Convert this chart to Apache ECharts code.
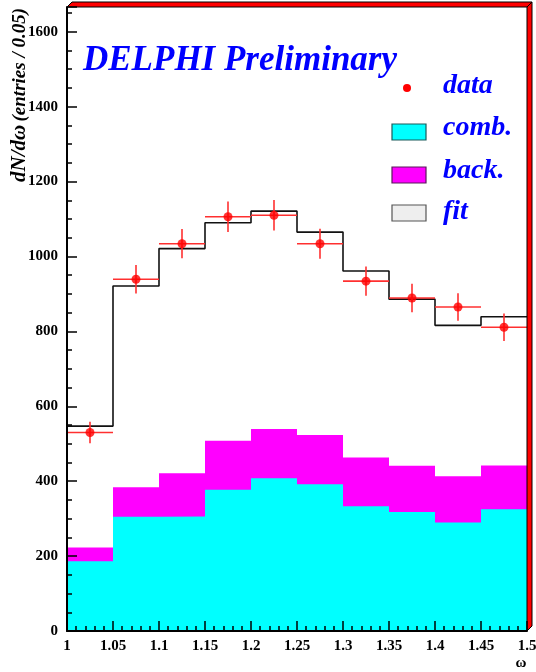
<!DOCTYPE html>
<html>
<head>
<meta charset="utf-8">
<script src="https://cdn.jsdelivr.net/npm/echarts@6/dist/echarts.min.js"></script>
<style>
  html, body { margin: 0; padding: 0; background: #fff; }
  #main { width: 536px; height: 672px; }
</style>
</head>
<body>
<div id="main"></div>
<script>
// bin edges (width 0.05), last edge closes the histogram
var binEdges = [1, 1.05, 1.1, 1.15, 1.2, 1.25, 1.3, 1.35, 1.4, 1.45, 1.5];
var binCenters = [1.025, 1.075, 1.125, 1.175, 1.225, 1.275, 1.325, 1.375, 1.425, 1.475];

var fitVals  = [547, 921, 1021, 1090, 1121, 1065, 961, 886, 816, 839];
var dataVals = [530, 939, 1034, 1106, 1110, 1034, 934, 889, 865, 811];
var dataErr  = [29, 38, 39, 41, 41, 40, 39, 38, 37, 37];
var combVals = [186, 305, 306, 377, 408, 392, 333, 318, 290, 325];
var backVals = [37, 79, 115, 131, 131, 131, 130, 123, 123, 117];

var yTicks = [0, 200, 400, 600, 800, 1000, 1200, 1400, 1600];

function stepData(vals) {
    var out = [];
    for (var i = 0; i < vals.length; i++) out.push([binEdges[i], vals[i]]);
    out.push([binEdges[binEdges.length - 1], vals[vals.length - 1]]);
    return out;
}

// back. is drawn stacked on comb. : total height, painted under the cyan
var combPlusBack = combVals.map(function (v, i) { return v + backVals[i]; });

var serif = '"Liberation Serif", "DejaVu Serif", serif';
var myChart = echarts.init(document.getElementById('main'));

var option = {
    animation: false,
    grid: { left: 67, right: 9, top: 7, bottom: 41, outerBoundsMode: 'none', containLabel: false },
    xAxis: {
        type: 'value', z: 10,
        min: 1, max: 1.5, interval: 0.05,
        axisLine: { lineStyle: { color: '#000', width: 2 } },
        axisTick: { inside: true, length: 10, lineStyle: { color: '#000', width: 1.5 } },
        minorTick: { show: true, splitNumber: 5, length: 5, lineStyle: { color: '#000', width: 1.5 } },
        splitLine: { show: false },
        axisLabel: {
            color: '#000', fontFamily: serif, fontWeight: 'bold', fontSize: 15, margin: 8,
            formatter: function (v) { return String(+v.toFixed(2)); }
        }
    },
    yAxis: {
        type: 'value', z: 10,
        min: 0, max: 1666, interval: 200,
        axisLine: { show: true, lineStyle: { color: '#000', width: 2 } },
        axisTick: { inside: true, length: 10, lineStyle: { color: '#000', width: 1.5 } },
        minorTick: { show: true, splitNumber: 4, length: 5, lineStyle: { color: '#000', width: 1.5 } },
        splitLine: { show: false },
        axisLabel: {
            color: '#000', fontFamily: serif, fontWeight: 'bold', fontSize: 15, margin: 9,
            formatter: function (v) { return yTicks.indexOf(v) >= 0 ? String(v) : ''; }
        }
    },
    series: [
        {
            name: 'back.', type: 'line', step: 'end',
            data: stepData(combPlusBack), showSymbol: false, symbol: 'none',
            lineStyle: { width: 0 },
            areaStyle: { color: '#ff00ff', opacity: 1 },
            z: 1
        },
        {
            name: 'comb.', type: 'line', step: 'end',
            data: stepData(combVals), showSymbol: false, symbol: 'none',
            lineStyle: { width: 0 },
            areaStyle: { color: '#00ffff', opacity: 1 },
            z: 2
        },
        {
            name: 'fit', type: 'line', step: 'end',
            data: stepData(fitVals), showSymbol: false, symbol: 'none',
            lineStyle: { color: '#111', width: 1.6 },
            z: 3
        },
        {
            name: 'data-err', type: 'custom',
            data: binCenters.map(function (c, i) { return [c, dataVals[i], dataErr[i]]; }),
            renderItem: function (params, api) {
                var c = api.value(0), v = api.value(1), e = api.value(2);
                var l = api.coord([c - 0.025, v]), r = api.coord([c + 0.025, v]);
                var t = api.coord([c, v + e]), b = api.coord([c, v - e]);
                var st = { stroke: '#ff3030', lineWidth: 1.6 };
                return {
                    type: 'group',
                    children: [
                        { type: 'line', shape: { x1: l[0], y1: l[1], x2: r[0], y2: r[1] }, style: st },
                        { type: 'line', shape: { x1: t[0], y1: t[1], x2: b[0], y2: b[1] }, style: st }
                    ]
                };
            },
            z: 4
        },
        {
            name: 'data', type: 'scatter',
            data: binCenters.map(function (c, i) { return [c, dataVals[i]]; }),
            symbol: 'circle', symbolSize: 9,
            itemStyle: { color: '#ff0000' },
            z: 5
        }
    ],
    graphic: [
        // ROOT-style frame border (top and right, red)
        { type: 'polygon', shape: { points: [[67, 7], [72, 2], [532, 2], [527, 7]] },
          style: { fill: '#ff0000', stroke: '#000', lineWidth: 1 }, z: 10 },
        { type: 'polygon', shape: { points: [[527, 7], [532, 2], [532, 626], [527, 631]] },
          style: { fill: '#ff0000', stroke: '#000', lineWidth: 1 }, z: 10 },

        // title
        { type: 'text', left: 83, top: 43,
          style: { text: 'DELPHI Preliminary', fill: '#0000ff', font: 'italic bold 35px ' + serif }, z: 10 },

        // y axis title
        { type: 'text', x: 20, y: 8, rotation: Math.PI / 2,
          style: { text: '{a|dN/d\u03c9} {b|(entries / 0.05)}', fill: '#000', align: 'right', verticalAlign: 'middle',
                   rich: {
                       a: { font: 'italic bold 21px ' + serif, fill: '#000' },
                       b: { font: 'italic bold 19px ' + serif, fill: '#000' }
                   } }, z: 10 },

        // x axis title
        { type: 'text', x: 521, y: 663,
          style: { text: '\u03c9', fill: '#000', font: 'bold 15px ' + serif, align: 'center', verticalAlign: 'middle' }, z: 10 },

        // legend
        { type: 'circle', shape: { cx: 407, cy: 88, r: 4 }, style: { fill: '#ff0000' }, z: 10 },
        { type: 'text', x: 443, y: 86,
          style: { text: 'data', fill: '#0000ff', font: 'italic bold 28px ' + serif, verticalAlign: 'middle' }, z: 10 },
        { type: 'rect', shape: { x: 392, y: 124, width: 34, height: 16 },
          style: { fill: '#00ffff', stroke: '#1a5a5a', lineWidth: 1.2 }, z: 10 },
        { type: 'text', x: 443, y: 128,
          style: { text: 'comb.', fill: '#0000ff', font: 'italic bold 28px ' + serif, verticalAlign: 'middle' }, z: 10 },
        { type: 'rect', shape: { x: 392, y: 167, width: 34, height: 16 },
          style: { fill: '#ff00ff', stroke: '#5a1a5a', lineWidth: 1.2 }, z: 10 },
        { type: 'text', x: 443, y: 171,
          style: { text: 'back.', fill: '#0000ff', font: 'italic bold 28px ' + serif, verticalAlign: 'middle' }, z: 10 },
        { type: 'rect', shape: { x: 392, y: 205, width: 34, height: 16 },
          style: { fill: '#eeeeee', stroke: '#555', lineWidth: 1.2 }, z: 10 },
        { type: 'text', x: 443, y: 212,
          style: { text: 'fit', fill: '#0000ff', font: 'italic bold 28px ' + serif, verticalAlign: 'middle' }, z: 10 }
    ]
};

myChart.setOption(option);
</script>
</body>
</html>
